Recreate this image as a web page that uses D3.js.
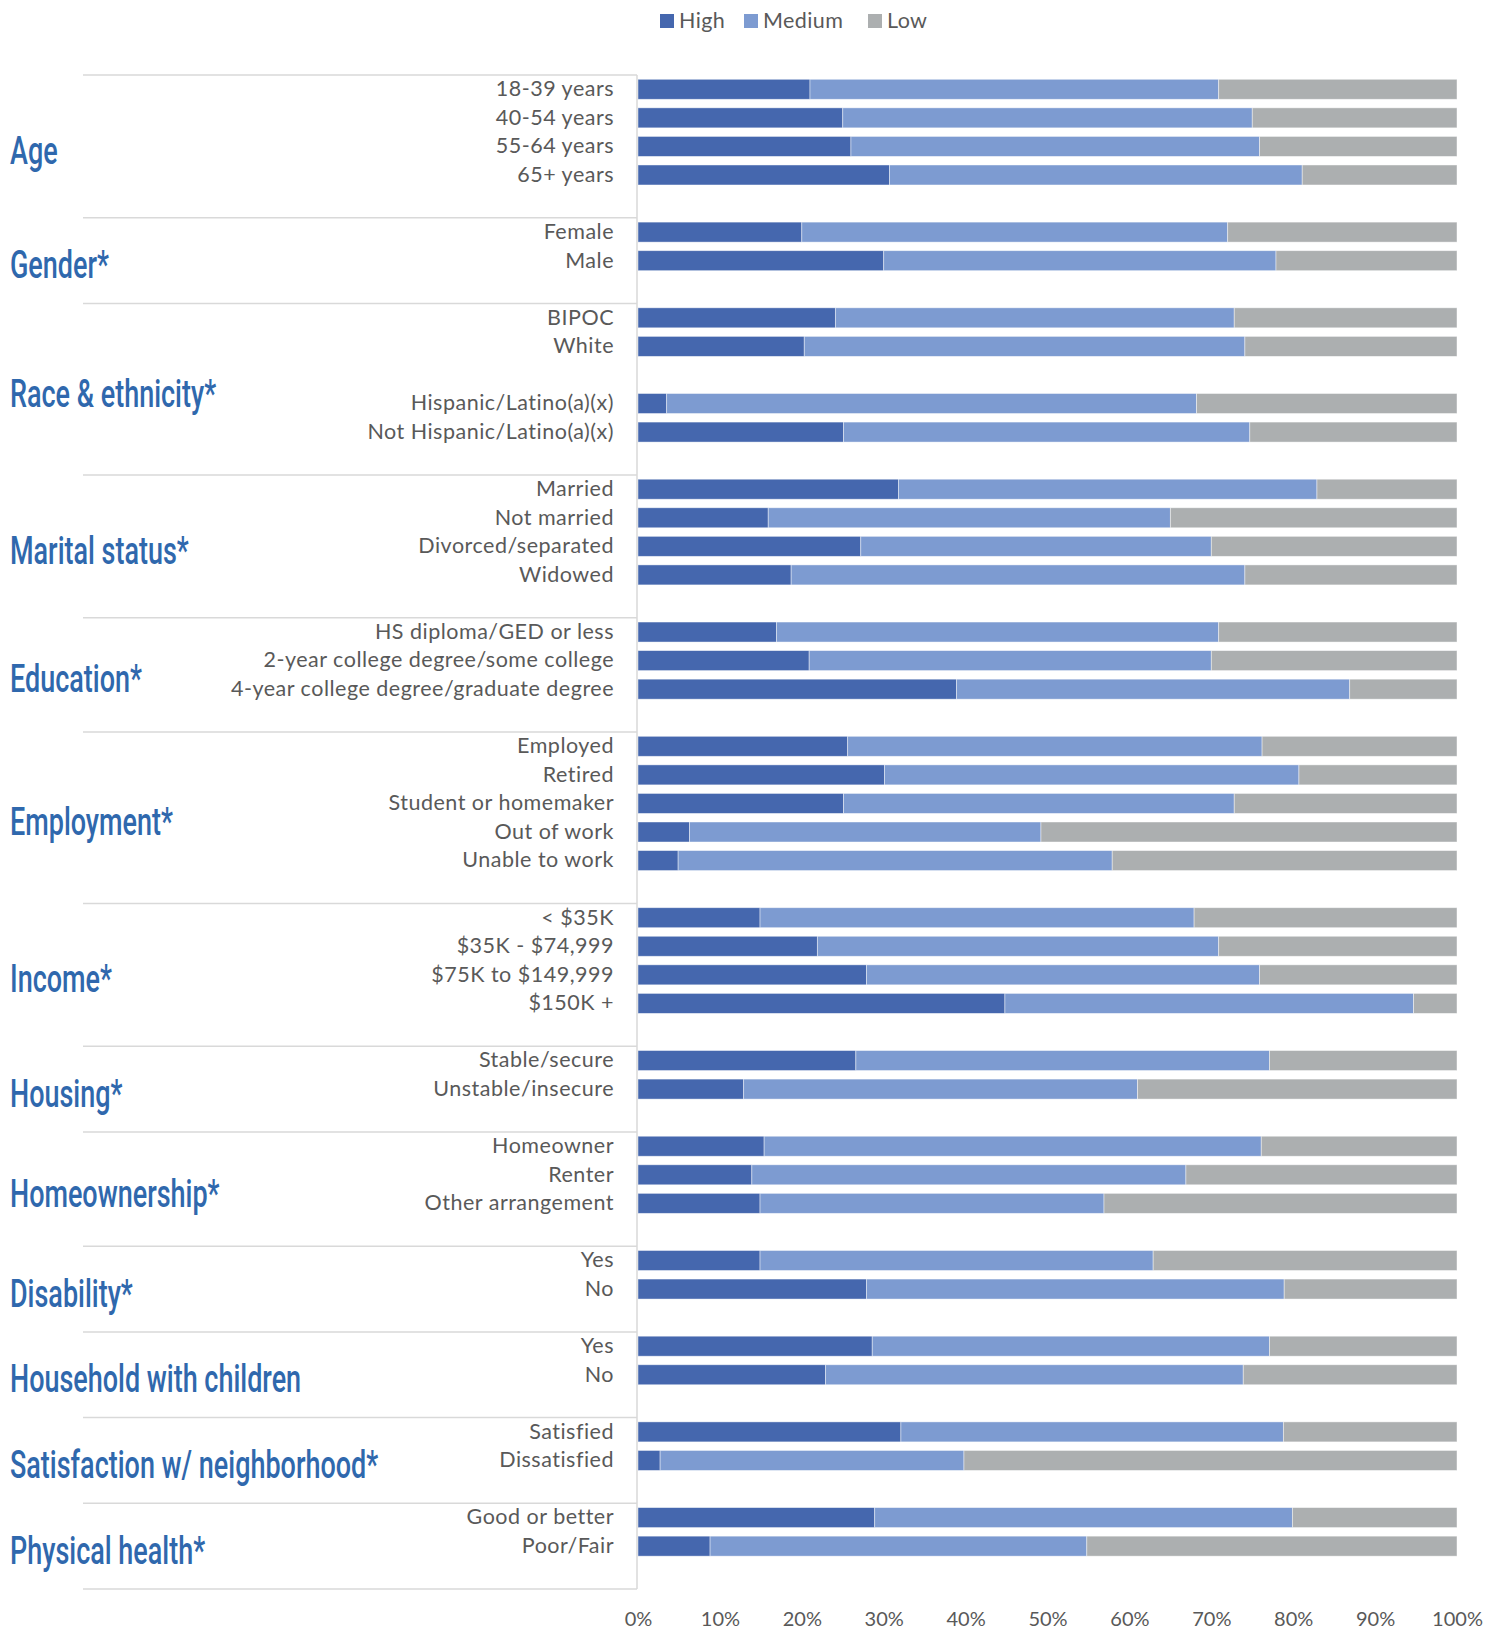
<!DOCTYPE html>
<html>
<head>
<meta charset="utf-8">
<script src="https://cdn.jsdelivr.net/npm/d3@7"></script>
<style>
  html, body { margin: 0; padding: 0; background: #ffffff; }
  svg { display: block; }
</style>
</head>
<body>
<div id="chart"></div>
<script>
// ---------------- DATA ----------------
const seriesNames = ["High", "Medium", "Low"];

const groupNames = [
  "Age", "Gender*", "Race & ethnicity*", "Marital status*", "Education*",
  "Employment*", "Income*", "Housing*", "Homeownership*", "Disability*",
  "Household with children", "Satisfaction w/ neighborhood*", "Physical health*"
];
// number of category slots (incl. blank spacer slots) in each group
const groupSlots = [5, 3, 6, 5, 4, 6, 5, 3, 4, 3, 3, 3, 3];

const categories = [
  "18-39 years", "40-54 years", "55-64 years", "65+ years", "",
  "Female", "Male", "",
  "BIPOC", "White", "", "Hispanic/Latino(a)(x)", "Not Hispanic/Latino(a)(x)", "",
  "Married", "Not married", "Divorced/separated", "Widowed", "",
  "HS diploma/GED or less", "2-year college degree/some college", "4-year college degree/graduate degree", "",
  "Employed", "Retired", "Student or homemaker", "Out of work", "Unable to work", "",
  "< $35K", "$35K - $74,999", "$75K to $149,999", "$150K +", "",
  "Stable/secure", "Unstable/insecure", "",
  "Homeowner", "Renter", "Other arrangement", "",
  "Yes", "No", "",
  "Yes", "No", "",
  "Satisfied", "Dissatisfied", "",
  "Good or better", "Poor/Fair", ""
];

const high = [
  21, 25, 26, 30.7, null,
  20, 30, null,
  24.1, 20.3, null, 3.5, 25.1, null,
  31.8, 15.9, 27.2, 18.7, null,
  16.9, 20.9, 38.9, null,
  25.6, 30.1, 25.1, 6.3, 4.9, null,
  14.9, 21.9, 27.9, 44.8, null,
  26.6, 12.9, null,
  15.4, 13.9, 14.9, null,
  14.9, 27.9, null,
  28.6, 22.9, null,
  32.1, 2.7, null,
  28.9, 8.8, null
];

const medium = [
  49.9, 50, 49.9, 50.4, null,
  52, 47.9, null,
  48.7, 53.8, null, 64.7, 49.6, null,
  51.1, 49.1, 42.8, 55.4, null,
  54, 49.1, 48, null,
  50.6, 50.6, 47.7, 42.9, 53, null,
  53, 49, 48, 49.9, null,
  50.5, 48.1, null,
  60.7, 53, 42, null,
  48, 51, null,
  48.5, 51, null,
  46.7, 37.1, null,
  51, 46, null
];

const low = [
  29.1, 25, 24.1, 18.9, null,
  28, 22.1, null,
  27.2, 25.9, null, 31.8, 25.3, null,
  17.1, 35, 30, 25.9, null,
  29.1, 30, 13.1, null,
  23.8, 19.3, 27.2, 50.8, 42.1, null,
  32.1, 29.1, 24.1, 5.3, null,
  22.9, 39, null,
  23.9, 33.1, 43.1, null,
  37.1, 21.1, null,
  22.9, 26.1, null,
  21.2, 60.2, null,
  20.1, 45.2, null
];

const xTicks = [0, 10, 20, 30, 40, 50, 60, 70, 80, 90, 100];

// ---------------- LAYOUT / STYLE ----------------
const W = 1501, H = 1631;
const colors = { High: "#4567ae", Medium: "#7d9bd1", Low: "#acafb0" };
const textGray = "#595959";
const lineGray = "#d9d9d9";
const groupBlue = "#2f68ad";
const bodyFont = "Lato, 'Open Sans', 'Liberation Sans', sans-serif";

const svg = d3.select("#chart").append("svg")
  .attr("width", W).attr("height", H);

const x = d3.scaleLinear().domain([0, 100]).range([638, 1457]);
const slotIdx = d3.range(categories.length);
const y = d3.scaleBand().domain(slotIdx).range([75, 1589])
  .paddingInner(0.3).paddingOuter(0.15);

const rows = slotIdx.map(i => ({
  i, cat: categories[i], High: high[i], Medium: medium[i], Low: low[i]
})).filter(d => d.High != null);

const stack = d3.stack().keys(seriesNames);
const stacked = stack(rows);

// bars
svg.append("g").selectAll("g")
  .data(stacked).join("g")
  .attr("fill", s => colors[s.key])
  .selectAll("rect")
  .data(s => s).join("rect")
  .attr("x", d => x(d[0]))
  .attr("width", d => x(d[1]) - x(d[0]))
  .attr("y", d => y(d.data.i))
  .attr("height", y.bandwidth())
  .attr("stroke", "rgba(255,255,255,0.55)")
  .attr("stroke-width", 0.8);

// group separator lines
const boundaries = [0];
groupSlots.forEach((n, k) => boundaries.push(boundaries[k] + n));
const step = y.step();
const yTop = y.range()[0];
svg.append("g").selectAll("line")
  .data(boundaries).join("line")
  .attr("x1", 83).attr("x2", 637)
  .attr("y1", b => yTop + b * step).attr("y2", b => yTop + b * step)
  .attr("stroke", lineGray).attr("stroke-width", 1.5);

// vertical axis line
svg.append("line")
  .attr("x1", 637).attr("x2", 637)
  .attr("y1", yTop).attr("y2", yTop + categories.length * step)
  .attr("stroke", lineGray).attr("stroke-width", 1.5);

// category labels via axis
const yAxis = d3.axisLeft(y)
  .tickSize(0).tickPadding(23)
  .tickFormat(i => categories[i]);
const gy = svg.append("g").attr("transform", "translate(637,0)").call(yAxis);
gy.select(".domain").remove();
gy.selectAll("text")
  .attr("fill", textGray)
  .style("font-family", bodyFont)
  .style("font-size", "21.5px")
  .style("letter-spacing", "0.5px");

// group labels
const groupG = svg.append("g");
groupNames.forEach((name, k) => {
  const cy = yTop + (boundaries[k] + groupSlots[k] / 2) * step + 4;
  groupG.append("text")
    .attr("transform", `translate(10,${cy + 13.5}) scale(0.71,1)`)
    .attr("fill", groupBlue)
    .style("font-family", "Roboto, 'Liberation Sans', sans-serif")
    .style("font-weight", 500)
    .style("font-size", "38px")
    .text(name);
});

// x axis
const xAxis = d3.axisBottom(x).tickValues(xTicks)
  .tickSize(0).tickPadding(0)
  .tickFormat(d => d + "%");
const gx = svg.append("g").attr("transform", "translate(0,1608)").call(xAxis);
gx.select(".domain").remove();
gx.selectAll("text")
  .attr("fill", textGray)
  .attr("dy", "0.9em")
  .style("font-family", bodyFont)
  .style("font-size", "20px");

// legend
const legendX = [660, 744, 868];
const lg = svg.append("g");
seriesNames.forEach((s, k) => {
  const g = lg.append("g").attr("transform", `translate(${legendX[k]},14)`);
  g.append("rect").attr("width", 14).attr("height", 14).attr("fill", colors[s]);
  g.append("text").attr("x", 19).attr("y", 14)
    .attr("fill", textGray)
    .style("font-family", bodyFont)
    .style("font-size", "21.5px")
    .style("letter-spacing", "0.4px")
    .text(s);
});
</script>
</body>
</html>
